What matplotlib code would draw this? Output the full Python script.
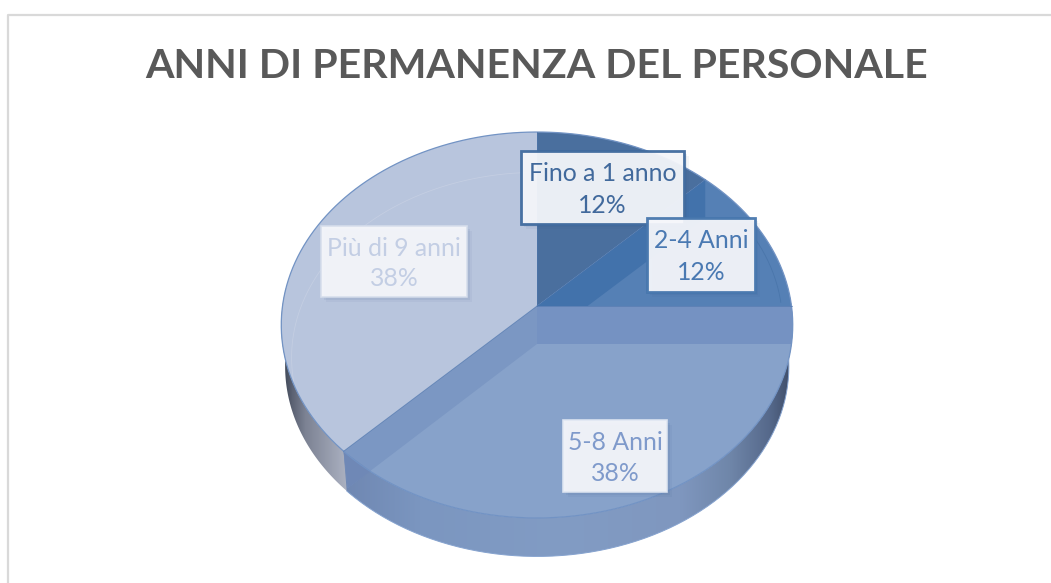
import numpy as np
import matplotlib
matplotlib.use("Agg")
import matplotlib.pyplot as plt
from matplotlib.colors import to_rgb
from matplotlib.patches import Polygon, Rectangle

# data
title = "ANNI DI PERMANENZA DEL PERSONALE"
categories = ["Fino a 1 anno", "2-4 Anni", "5-8 Anni", "Più di 9 anni"]
values = [12.5, 12.5, 37.5, 37.5]
percent_labels = ["12%", "12%", "38%", "38%"]

top_colors = ["#4a6f9e", "#5580b5", "#87a2ca", "#b8c5dd"]
band_colors = [None, "#4272ab", "#7b97c3", None]
text_colors = ["#41699c", "#4a79b2", "#7f9acb", "#c3cee4"]
edge_colors = ["#3f6a9e", "#4676ad", "#dfe6f2", "#d6deec"]
boxes = [(521, 151, 684, 224), (647, 218, 755, 292), (563, 420, 667, 492), (321, 226, 467, 297)]

# pie geometry in pixels (tilted disc seen in perspective)
W, H = 1051, 583
CX, CY = 537, 306
RX, RY, PERSP = 254.5, 191.1, 0.0984
DEPTH = 38
WALL_DEPTH = 42


def project(theta, scale=1.0, dy=0.0):
    u = np.cos(theta) * scale
    v = np.sin(theta) * scale
    d = 1 + PERSP * v
    return CX + RX * u / d, CY - RY * v / d + dy


def arc(a0, a1, **kw):
    t = np.linspace(a0, a1, 200)
    return np.column_stack(project(t, **kw))


def gradient(ax, poly, xs, cols, zorder):
    # horizontal colour ramp clipped by a polygon
    rgb = np.array([to_rgb(c) for c in cols])
    px = np.arange(W)
    img = np.stack([np.interp(px, xs, rgb[:, i]) for i in range(3)], axis=-1)[None, :, :]
    im = ax.imshow(img, extent=(0, W, H, 0), aspect="auto", zorder=zorder, interpolation="bilinear")
    patch = Polygon(poly, closed=True, transform=ax.transData, facecolor="none", edgecolor="none")
    ax.add_patch(patch)
    im.set_clip_path(patch)


fig = plt.figure(figsize=(W / 100, H / 100), dpi=100)
ax = fig.add_axes([0, 0, 1, 1])
ax.set_xlim(0, W)
ax.set_ylim(H, 0)
ax.axis("off")

# chart frame
ax.plot([8, 8, W], [H, 15, 15], color="#d9d9d9", lw=1.6, zorder=1)

# slice angles, clockwise from the top
fracs = np.cumsum([0] + values) / np.sum(values)
angles = np.pi / 2 - 2 * np.pi * fracs
split = angles[3]

# outer wall below the rim, both parts share the corner at the split
blue_wall = np.vstack([arc(0.05, split), arc(split, 0.05, scale=0.985, dy=WALL_DEPTH)])
grey_wall = np.vstack([arc(split + 0.03, -np.pi * 1.03), arc(-np.pi * 1.03, split + 0.03, scale=0.985, dy=WALL_DEPTH)])
gradient(ax, grey_wall, [285, 292, 305, 345, 350],
         ["#444c5c", "#5b6273", "#7c8293", "#aab0c0", "#aab0c0"], 2)
gradient(ax, blue_wall, [345, 420, 560, 680, 730, 770, 792],
         ["#6f87b2", "#7b96c0", "#829cc4", "#7f97bf", "#6f86a9", "#55688a", "#3d4b66"], 2.1)

# top face slices
for i in [0, 1, 2, 3]:
    a0, a1 = angles[i], angles[i + 1]
    pts = np.vstack([[CX, CY], arc(a0, a1)])
    ax.add_patch(Polygon(pts, closed=True, facecolor=top_colors[i], edgecolor="none", zorder=3))

# cut faces seen through the glassy top
ex, ey = project(angles[1])
clip = Polygon(np.vstack([[CX, CY], arc(angles[1], angles[2])]), closed=True, transform=ax.transData,
               facecolor="none", edgecolor="none")
ax.add_patch(clip)
band = ax.add_patch(Polygon([[CX, CY], [ex, ey], [ex, ey + DEPTH], [CX, CY + DEPTH]], closed=True,
                            facecolor=band_colors[1], edgecolor="none", zorder=4))
band.set_clip_path(clip)

ex, ey = project(angles[2])
ax.fill([CX, ex, ex, CX], [CY, CY, CY + DEPTH, CY + DEPTH], color="#7592c2", lw=0, zorder=4)
ex, ey = project(split)
ax.add_patch(Polygon([[CX, CY], [ex, ey], [ex + 4, ey + DEPTH - 1], [CX, CY + DEPTH]], closed=True,
                     facecolor=band_colors[2], edgecolor="none", zorder=4))
ax.add_patch(Polygon([[ex, ey], [ex + 4, ey + DEPTH - 1], [ex + 27, ey + 20]], closed=True,
                     facecolor="#6f88b6", edgecolor="none", zorder=4))

# faint inner rim lines
inner = arc(np.pi / 2, np.pi * 1.07, scale=0.96, dy=34)
ax.plot(inner[:, 0], inner[:, 1], color="#c4cee2", lw=0.6, zorder=5)
inner = arc(0.45, 0.02, scale=0.96, dy=0)
ax.plot(inner[:, 0], inner[:, 1], color="#4a76ab", lw=0.6, zorder=5)

# outlines
rim = arc(0, 2 * np.pi)
ax.plot(rim[:, 0], rim[:, 1], color="#7293c4", lw=0.9, zorder=6)
for a in angles[[0, 1, 2, 3]]:
    x, y = project(a)
    ax.plot([CX, x], [CY, y], color="#4f76ad", lw=0.6, zorder=6, alpha=0.7)
low = np.column_stack(project(np.linspace(-np.pi * 0.02, split, 200), scale=0.985, dy=WALL_DEPTH))
ax.plot(low[:, 0], low[:, 1], color="#86a3cf", lw=0.7, zorder=6)

# data labels
for i, name in enumerate(categories):
    x0, y0, x1, y1 = boxes[i]
    lw = 2.0 if i < 2 else 1.2
    for off, alpha in [(7, 0.05), (5, 0.07), (3, 0.09)]:
        ax.add_patch(Rectangle((x0 + off - 2, y0 + off - 2), x1 - x0, y1 - y0, facecolor="#2f4f7f",
                               edgecolor="none", alpha=alpha, zorder=7))
    ax.add_patch(Rectangle((x0, y0), x1 - x0, y1 - y0, facecolor="#f6f7fb", alpha=0.94,
                           edgecolor=edge_colors[i], lw=lw, zorder=8))
    xm = (x0 + x1) / 2
    ax.text(xm, y0 + (y1 - y0) * 0.31, name, ha="center", va="center", fontsize=17.8, family="Lato",
            color=text_colors[i], zorder=9)
    ax.text(xm, y0 + (y1 - y0) * 0.74, percent_labels[i], ha="center", va="center", fontsize=17.8,
            family="Lato", color=text_colors[i], zorder=9)

ax.text(537, 66, title, ha="center", va="center", fontsize=29.6, family="Lato", fontweight="bold",
        color="#595959", zorder=9)

fig.savefig("out.png", dpi=100, facecolor="white")
